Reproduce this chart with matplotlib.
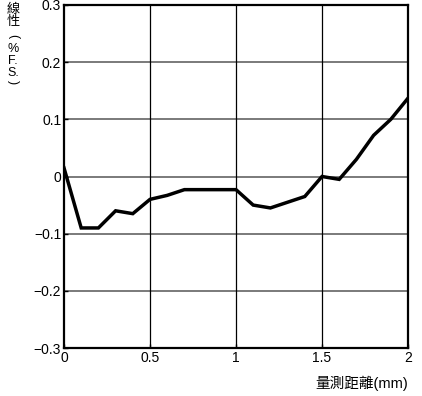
import matplotlib
matplotlib.use("Agg")
import matplotlib.pyplot as plt

plt.rcParams['font.family'] = ['Liberation Sans', 'Noto Sans CJK TC', 'DejaVu Sans']

# distance (mm) and linearity (%F.S.)
distance = [0.0, 0.1, 0.2, 0.3, 0.4, 0.5, 0.6, 0.7, 0.8, 0.9, 1.0,
            1.1, 1.2, 1.3, 1.4, 1.5, 1.6, 1.7, 1.8, 1.9, 2.0]
linearity = [0.015, -0.09, -0.09, -0.06, -0.065, -0.04, -0.033, -0.023, -0.023, -0.023, -0.023,
             -0.05, -0.055, -0.045, -0.035, 0.0, -0.005, 0.03, 0.072, 0.1, 0.137]
x_ticks = [0, 0.5, 1, 1.5, 2]
x_tick_labels = ['0', '0.5', '1', '1.5', '2']
y_ticks = [-0.3, -0.2, -0.1, 0, 0.1, 0.2, 0.3]
y_tick_labels = ['\u22120.3', '\u22120.2', '\u22120.1', '0', '0.1', '0.2', '0.3']
y_label_chars = ['線', '性', '(', '%', 'F.', 'S.', ')']

fig = plt.figure(figsize=(4.22, 3.96), dpi=100)
ax = fig.add_axes([64/422, 1 - 348/396, (408-64)/422, (348-5)/396])

ax.plot(distance, linearity, color='black', lw=2.5, solid_joinstyle='miter', zorder=3)

ax.set_xlim(0, 2)
ax.set_ylim(-0.3, 0.3)
ax.set_xticks(x_ticks)
ax.set_xticklabels(x_tick_labels, fontsize=10)
ax.set_yticks(y_ticks)
ax.set_yticklabels(y_tick_labels, fontsize=10)
ax.tick_params(direction='in', length=3, width=1, pad=2)

for y in y_ticks[1:-1]:
    ax.axhline(y, color='#707070', lw=1.3, zorder=1)
for x in x_ticks[1:-1]:
    ax.axvline(x, color='black', lw=0.9, zorder=1)

for s in ax.spines.values():
    s.set_linewidth(1.6)

# vertical y-axis label, one character at a time (brackets turned sideways)
char_y = [8, 20, 38, 48, 60, 72, 84]
for ch, py in zip(y_label_chars, char_y):
    rot = -90 if ch in '()' else 0
    size = 9.5 if ch in '線性' else 9
    fig.text(13/422, 1 - py/396, ch, ha='center', va='center_baseline',
             fontsize=size, rotation=rot)

fig.text(408/422, 1 - 383/396, '量測距離(mm)', ha='right', va='center', fontsize=10.5)

fig.savefig('out.png', dpi=100)
